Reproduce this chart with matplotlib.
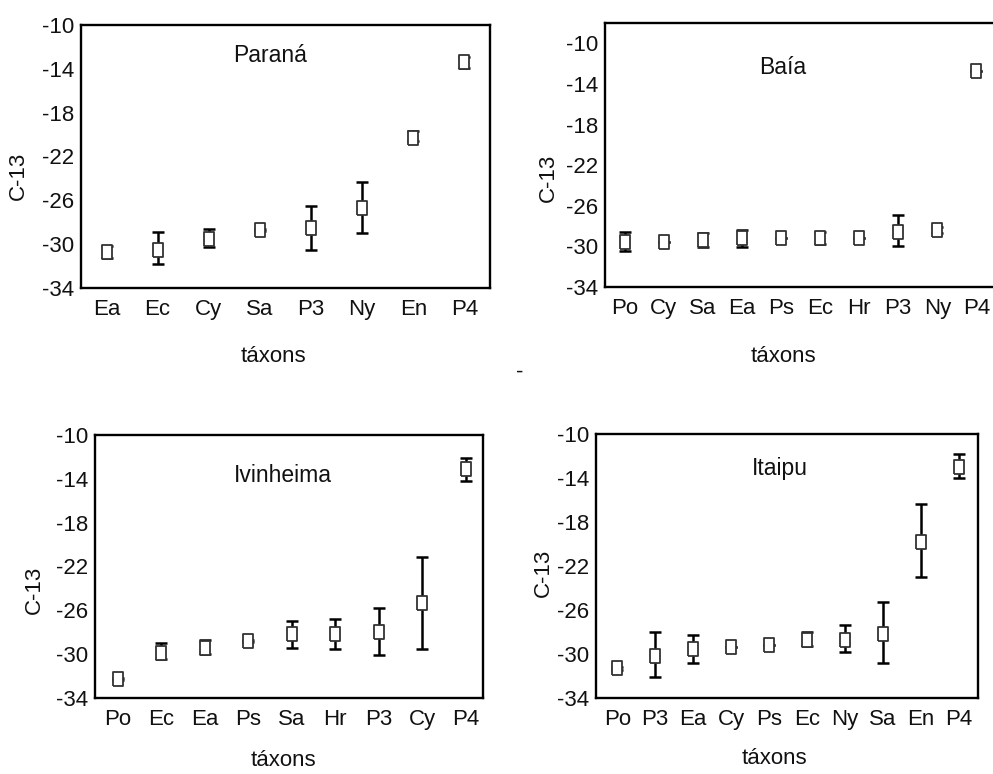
import numpy as np
import matplotlib
matplotlib.use("Agg")
import matplotlib.pyplot as plt

plt.rcParams["font.family"] = ["Liberation Sans", "DejaVu Sans"]

W, H = 993, 774

# --- data (mean, lower and upper end of the error bar) ---
parana_cats = ["Ea", "Ec", "Cy", "Sa", "P3", "Ny", "En", "P4"]
parana_mean = [-30.7, -30.5, -29.5, -28.7, -28.5, -26.7, -20.3, -13.35]
parana_lo = [-31.25, -31.8, -30.3, -28.8, -30.5, -29.0, -20.6, -13.9]
parana_hi = [-30.15, -28.9, -28.6, -28.6, -26.5, -24.3, -19.7, -12.9]

baia_cats = ["Po", "Cy", "Sa", "Ea", "Ps", "Ec", "Hr", "P3", "Ny", "P4"]
baia_mean = [-29.6, -29.6, -29.37, -29.2, -29.2, -29.2, -29.2, -28.55, -28.4, -12.75]
baia_lo = [-30.5, -29.6, -30.1, -30.1, -29.2, -29.8, -29.2, -29.93, -28.7, -12.75]
baia_hi = [-28.55, -29.6, -28.65, -28.4, -29.2, -28.55, -29.2, -26.9, -28.1, -12.75]

ivinheima_cats = ["Po", "Ec", "Ea", "Ps", "Sa", "Hr", "P3", "Cy", "P4"]
ivinheima_mean = [-32.3, -29.9, -29.47, -28.8, -28.16, -28.16, -28.0, -25.3, -13.13]
ivinheima_lo = [-32.4, -30.47, -29.98, -28.9, -29.4, -29.5, -30.07, -29.5, -14.17]
ivinheima_hi = [-32.2, -28.95, -28.7, -28.7, -26.97, -26.8, -25.75, -21.1, -12.07]

itaipu_cats = ["Po", "P3", "Ea", "Cy", "Ps", "Ec", "Ny", "Sa", "En", "P4"]
itaipu_mean = [-31.3, -30.15, -29.55, -29.4, -29.2, -28.7, -28.7, -28.15, -19.8, -13.03]
itaipu_lo = [-31.45, -32.06, -30.8, -29.4, -29.2, -29.27, -29.8, -30.8, -22.97, -13.97]
itaipu_hi = [-31.15, -28.03, -28.27, -29.4, -29.2, -27.97, -27.4, -25.3, -16.36, -11.8]

yticks = [-10, -14, -18, -22, -26, -30, -34]

# tall rectangle marker
box = [(-0.77, -1), (0.77, -1), (0.77, 1), (-0.77, 1), (-0.77, -1)]

FS = 16


def fx(x):
    return x / W


def fy(y):
    return 1 - y / H


def panel(fig, rect_px, cats, mean, lo, hi, title, title_px, ylim, xlim):
    left, top, right, bottom = rect_px
    ax = fig.add_axes([fx(left), fy(bottom), fx(right) - fx(left), fy(top) - fy(bottom)])
    x = np.arange(len(cats))
    mean = np.array(mean)
    yerr = [mean - np.array(lo), np.array(hi) - mean]
    ax.errorbar(x, mean, yerr=yerr, fmt="none", ecolor="black", elinewidth=1.8,
                capsize=4.5, capthick=1.8, zorder=2)
    ax.plot(x, mean, linestyle="none", marker=box, markersize=9.5,
            markerfacecolor="white", markeredgecolor="#333333", markeredgewidth=1.3,
            zorder=3)
    ax.set_xlim(*xlim)
    ax.set_ylim(*ylim)
    ax.set_yticks(yticks)
    ax.set_yticklabels([str(t) for t in yticks])
    ax.set_xticks(x)
    ax.set_xticklabels(cats)
    ax.tick_params(length=0, labelsize=FS, colors="#111111")
    ax.tick_params(axis="y", pad=5)
    ax.tick_params(axis="x", pad=8)
    for s in ax.spines.values():
        s.set_linewidth(1.7)
    ax.text(fx(title_px[0]), fy(title_px[1]), title, transform=fig.transFigure,
            ha="center", va="center", fontsize=FS + 0.5, color="#111111")
    return ax


fig = plt.figure(figsize=(W / 100, H / 100), dpi=100)

panel(fig, (81, 25, 490, 288), parana_cats, parana_mean, parana_lo, parana_hi,
      "Paraná", (270, 56), (-34, -10), (-0.5, 7.5))
panel(fig, (605, 23, 996, 287), baia_cats, baia_mean, baia_lo, baia_hi,
      "Baía", (783, 68), (-34, -8), (-0.5, 9.5))
panel(fig, (95, 435, 483, 698), ivinheima_cats, ivinheima_mean, ivinheima_lo, ivinheima_hi,
      "Ivinheima", (283, 475), (-34, -10), (-0.53, 8.4))
panel(fig, (596, 434, 978, 698), itaipu_cats, itaipu_mean, itaipu_lo, itaipu_hi,
      "Itaipu", (780, 468), (-34, -10), (-0.56, 9.5))

# axis labels placed as in the original layout
for (x, y) in [(18, 176), (548, 178), (34, 590), (543, 573)]:
    fig.text(fx(x), fy(y), "C-13", rotation=90, ha="center", va="center",
             fontsize=FS, color="#111111")
for (x, y) in [(273, 357), (783, 357), (283, 761), (774, 759)]:
    fig.text(fx(x), fy(y), "táxons", ha="center", va="center",
             fontsize=FS, color="#111111")
fig.text(fx(520), fy(372), "-", ha="center", va="center", fontsize=FS, color="#111111")

fig.savefig("out.png", dpi=100)
